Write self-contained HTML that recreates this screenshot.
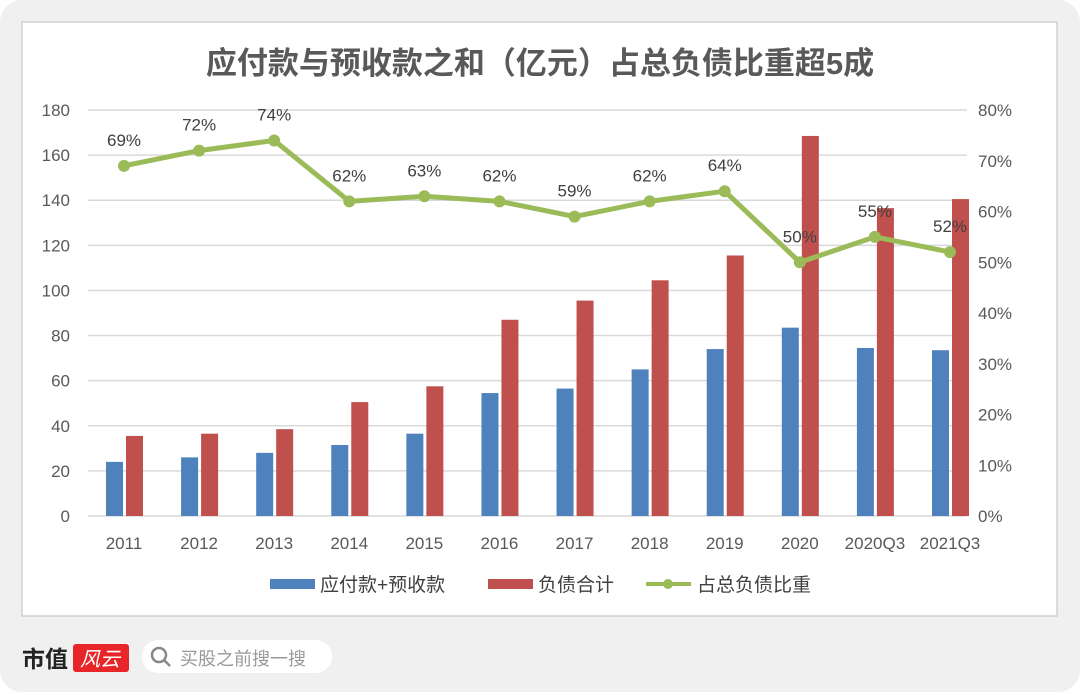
<!DOCTYPE html>
<html><head><meta charset="utf-8"><style>
body{margin:0;width:1080px;height:692px;background:#fff;overflow:hidden;font-family:"Liberation Sans","Noto Sans CJK SC",sans-serif}
</style></head><body>
<div style="position:absolute;left:0;top:0;width:1080px;height:692px;background:#f0f0f0;border-radius:22px"></div>
<svg id="c" width="1080" height="692" style="position:absolute;left:0;top:0" font-family="Liberation Sans, Noto Sans CJK SC, sans-serif">
<rect x="22" y="22" width="1035" height="594" fill="#fff" stroke="#d0d0d0" stroke-width="1.5"/>
<text x="540" y="74" text-anchor="middle" font-size="31" font-weight="bold" fill="#595959">应付款与预收款之和（亿元）占总负债比重超5成</text>
<g id="g"></g>
<g font-size="19" fill="#404040">
<rect x="270" y="579" width="45" height="10" fill="#4f81bd"/><text x="320" y="591">应付款+预收款</text>
<rect x="488" y="579" width="45" height="10" fill="#c0504d"/><text x="538" y="591">负债合计</text>
<line x1="646" y1="584" x2="691" y2="584" stroke="#9bbb59" stroke-width="4"/><circle cx="668" cy="584" r="5" fill="#9bbb59"/><text x="697" y="591">占总负债比重</text>
</g>
<g>
<text x="22" y="667" font-size="23" font-weight="bold" fill="#222">市值</text>
<rect x="73" y="644" width="56" height="28" rx="3" fill="#e8262a"/><text x="80" y="666" font-size="20" fill="#fff" font-style="italic">风云</text>
</g>
<g>
<rect x="142" y="640" width="190" height="33" rx="16" fill="#fff"/>
<circle cx="159" cy="655" r="7" fill="none" stroke="#888" stroke-width="2.5"/><line x1="164" y1="660" x2="170" y2="666" stroke="#888" stroke-width="2.5"/>
<text x="180" y="665" font-size="18" fill="#999">买股之前搜一搜</text>
</g>
</svg>
<script>
const categories=["2011","2012","2013","2014","2015","2016","2017","2018","2019","2020","2020Q3","2021Q3"];
const payables=[24,26,28,31.5,36.5,54.5,56.5,65,74,83.5,74.5,73.5];
const liabilities=[35.5,36.5,38.5,50.5,57.5,87,95.5,104.5,115.5,168.5,136.5,140.5];
const ratio=[69,72,74,62,63,62,59,62,64,50,55,52];
const leftTicks=[0,20,40,60,80,100,120,140,160,180];
const rightTicks=[0,10,20,30,40,50,60,70,80];
const g=document.getElementById('g');const NS='http://www.w3.org/2000/svg';
const y0=516,yTop=110,x0=88,x1=967;
const yL=v=>y0-(v/180)*(y0-yTop);
const yR=v=>y0-(v/80)*(y0-yTop);
const xC=i=>124+i*(950-124)/(categories.length-1);
function mk(t,a,txt){const e=document.createElementNS(NS,t);for(const k in a)e.setAttribute(k,a[k]);if(txt!==undefined)e.textContent=txt;g.appendChild(e);return e;}
leftTicks.forEach(v=>{
const l=mk('line',{x1:x0,x2:x1,y1:yL(v),y2:yL(v),stroke:'#d9d9d9','stroke-width':1.5});


const t=mk('text',{x:70,y:yL(v)+6,'text-anchor':'end','font-size':17,fill:'#595959'},v);


});
rightTicks.forEach(v=>{
const t=mk('text',{x:978,y:yR(v)+6,'font-size':17,fill:'#595959'},v+'%');


});
categories.forEach((c,i)=>{
const x=xC(i);
const b=mk('rect',{x:x-18,y:yL(payables[i]),width:17,height:y0-yL(payables[i]),fill:'#4f81bd'});


const r=mk('rect',{x:x+2,y:yL(liabilities[i]),width:17,height:y0-yL(liabilities[i]),fill:'#c0504d'});


const t=mk('text',{x:x,y:549,'text-anchor':'middle','font-size':17,fill:'#595959'},c);


});
const p=mk('polyline',{points:ratio.map((v,i)=>xC(i)+','+yR(v)).join(' '),fill:'none',stroke:'#9bbb59','stroke-width':5,'stroke-linejoin':'round'});


ratio.forEach((v,i)=>{
const c=mk('circle',{cx:xC(i),cy:yR(v),r:6,fill:'#9bbb59'});


const t=mk('text',{x:xC(i),y:yR(v)-20,'text-anchor':'middle','font-size':17,fill:'#404040'},v+'%');


});
</script>
</body></html>
